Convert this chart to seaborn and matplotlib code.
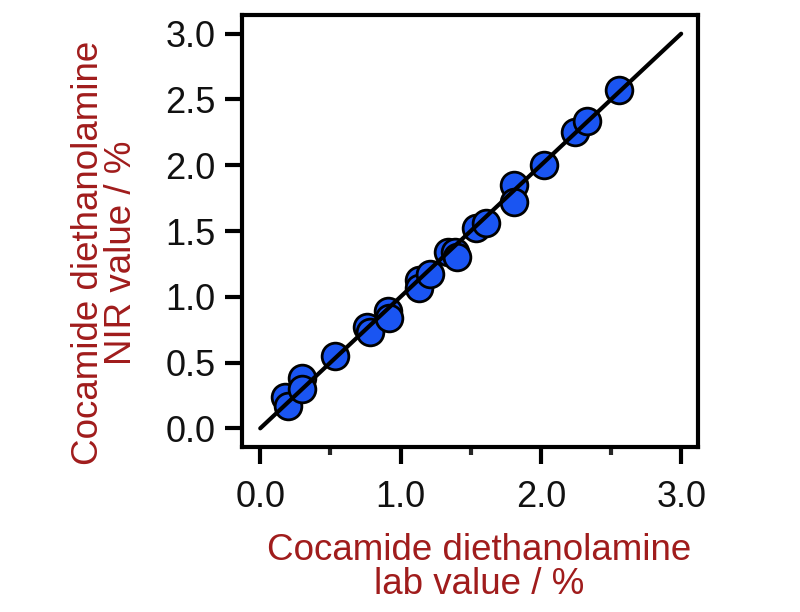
import numpy as np
import pandas as pd
import matplotlib
matplotlib.use('Agg')
import matplotlib.pyplot as plt
import seaborn as sns

# lab value vs NIR value (%)
lab_value = [0.18, 0.20, 0.30, 0.30, 0.53, 0.76, 0.78, 0.91, 0.92, 1.13, 1.13,
             1.21, 1.34, 1.39, 1.40, 1.54, 1.61, 1.81, 1.81, 2.02, 2.24, 2.33, 2.56]
nir_value = [0.24, 0.17, 0.38, 0.30, 0.55, 0.77, 0.73, 0.89, 0.84, 1.13, 1.07,
             1.17, 1.34, 1.34, 1.30, 1.52, 1.56, 1.85, 1.72, 2.00, 2.25, 2.34, 2.57]

# 1:1 line
fit_x = [0.0, 3.0]
fit_y = [0.0, 3.0]

y_ticks = [0.0, 0.5, 1.0, 1.5, 2.0, 2.5, 3.0]
x_ticks = [0.0, 1.0, 2.0, 3.0]
x_minor = [0.5, 1.5, 2.5]

label_color = '#a01c1c'

sns.set_style('ticks')
plt.rcParams['font.family'] = ['Liberation Sans', 'DejaVu Sans']

df = pd.DataFrame({'lab': lab_value, 'nir': nir_value})

fig = plt.figure(figsize=(8, 6.12), dpi=100)
ax = fig.add_axes([0.3025, 0.27, 0.57, 0.705])

sns.scatterplot(data=df, x='lab', y='nir', ax=ax, s=370, color='#1a55f2',
                edgecolor='black', linewidth=2.0, zorder=2, legend=False)
sns.lineplot(x=fit_x, y=fit_y, ax=ax, color='black', linewidth=3.0, zorder=3)

ax.set_xlim(-0.13, 3.12)
ax.set_ylim(-0.14, 3.14)
ax.set_xticks(x_ticks)
ax.set_xticklabels([f'{v:.1f}' for v in x_ticks])
ax.set_xticks(x_minor, minor=True)
ax.set_yticks(y_ticks)
ax.set_yticklabels([f'{v:.1f}' for v in y_ticks])

for sp in ax.spines.values():
    sp.set_visible(True)
    sp.set_linewidth(3.0)
    sp.set_color('black')

ax.tick_params(axis='both', which='major', direction='out', length=12, width=3.0,
               labelsize=26, colors='black', labelcolor='#111111')
ax.tick_params(axis='x', which='major', pad=12)
ax.tick_params(axis='y', which='major', pad=7)
ax.tick_params(axis='x', which='minor', direction='out', length=6, width=3.0)

ax.set_xlabel('Cocamide diethanolamine\nlab value / %', fontsize=26.5,
              color=label_color, linespacing=0.95)
ax.set_ylabel('Cocamide diethanolamine\nNIR value / %', fontsize=26.5,
              color=label_color, linespacing=0.95)
ax.xaxis.set_label_coords(0.52, -0.2, transform=ax.transAxes)
ax.xaxis.label.set_va('top')
ax.yaxis.set_label_coords(-0.225, 0.45, transform=ax.transAxes)

fig.savefig('out.png', dpi=100)
